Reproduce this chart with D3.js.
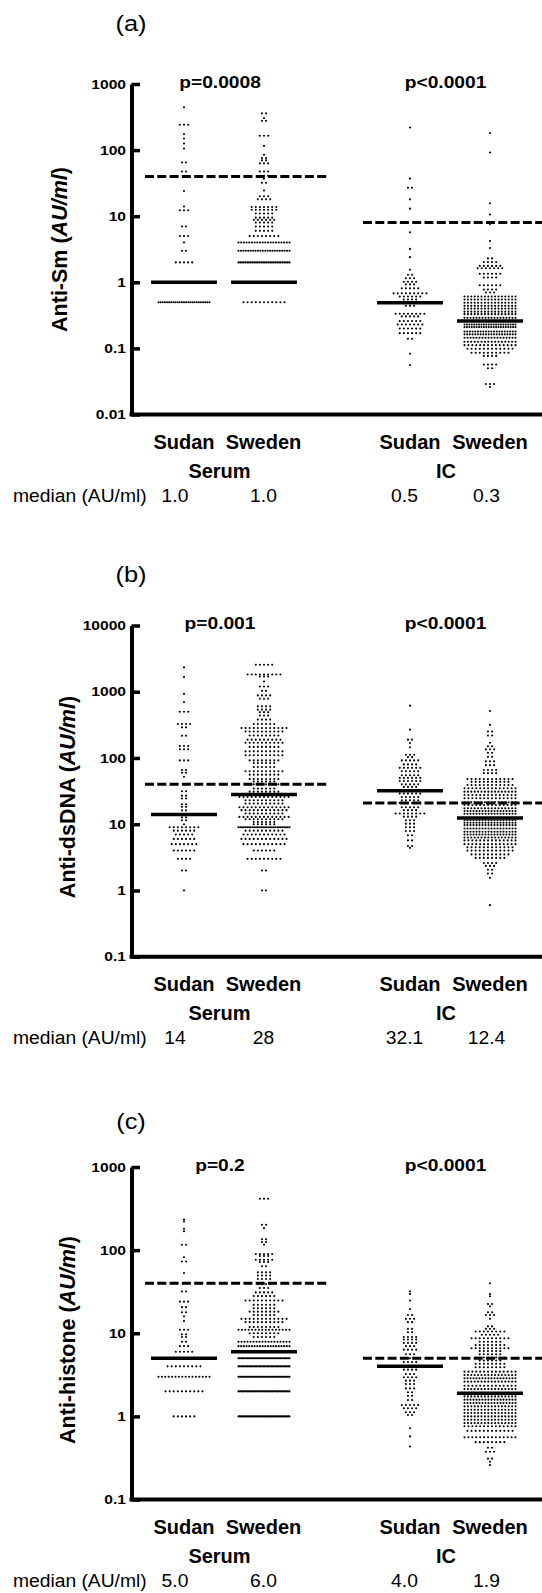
<!DOCTYPE html>
<html>
<head>
<meta charset="utf-8">
<script src="https://cdn.jsdelivr.net/npm/d3@7"></script>
<style>
  body { margin: 0; background: #fff; }
  svg { display: block; }
</style>
</head>
<body>
<svg id="chart" width="542" height="1593"></svg>
<script>
// groups shown in every panel (left to right)
const groups = ["sudanSerum", "swedenSerum", "sudanIC", "swedenIC"];
const groupLabels = ["Sudan", "Sweden", "Sudan", "Sweden"];
const sampleLabels = ["Serum", "IC"];

// each row is [value in AU/ml, number of dots drawn at that level]
// (a) Anti-Sm
const smSudanSerum = [[443,1],[242,3],[175,1],[150,1],[126,1],[106,1],[65,2],[47.5,2],[24,1],[14,1],[12.3,3],[7,2],[5,3],[4,1],[3,2],[2,5],[1,45],[0.5,25]];
const smSwedenSerum = [[360,2],[305,1],[278,2],[165,3],[116,1],[85,1],[76,2],[70,2],[63,3],[47.5,3],[41,3],[37,1],[32,2],[24.5,1],[20,3],[18,4],[13.8,7],[12.5,7],[11,5],[9.5,5],[8.8,6],[8,5],[7,5],[6,5],[5,8],[4,20],[3,22],[2,30],[1,160],[0.5,11]];
const smSudanIC = [[220,1],[37,1],[27,2],[18,1],[13,1],[5.7,1],[3.2,1],[2.4,1],[1.55,1],[1.3,2],[1.15,3],[1.02,4],[0.93,3],[0.81,5],[0.68,9],[0.61,6],[0.55,4],[0.49,14],[0.44,3],[0.335,8],[0.305,5],[0.26,6],[0.23,7],[0.2,6],[0.17,6],[0.14,2],[0.083,1],[0.056,1]];
const smSwedenIC = [[181,1],[92,1],[15.7,1],[10.6,1],[7.6,1],[4.2,1],[3.3,1],[2.3,2],[2.03,4],[1.77,6],[1.63,7],[1.35,6],[1.18,4],[0.9,6],[0.78,4],[0.7,3],[0.61,16],[0.55,16],[0.49,16],[0.44,16],[0.4,16],[0.36,16],[0.33,16],[0.29,18],[0.26,25],[0.23,22],[0.21,22],[0.18,20],[0.163,20],[0.145,18],[0.126,16],[0.112,14],[0.099,12],[0.086,10],[0.077,4],[0.057,4],[0.05,2],[0.029,3],[0.026,1]];

// (b) Anti-dsDNA
const dnaSudanSerum = [[2330,1],[1660,1],[930,1],[700,1],[500,3],[326,4],[290,2],[217,2],[151,3],[135,3],[92,3],[66,2],[60,2],[52,1],[40,1],[31.4,2],[27,2],[24.5,2],[20,2],[18.3,2],[16.2,2],[14,8],[12.7,2],[11.5,2],[10,1],[9,8],[8,6],[7,5],[6,6],[5,7],[4,6],[3,4],[2,2],[1,1]];
const dnaSwedenSerum = [[2550,5],[1820,9],[1700,3],[1430,1],[1200,3],[1035,2],[880,4],[785,3],[602,4],[537,4],[492,3],[438,3],[380,4],[325,6],[283,12],[251,10],[218,8],[189,9],[170,10],[147,8],[126,10],[110,10],[92,8],[84,6],[73,6],[63,10],[56,8],[48,8],[44,6],[40,8],[34.6,6],[31,8],[28,10],[25.7,13],[23,10],[20.5,10],[18,13],[16.3,12],[14.5,10],[12.9,13],[11.9,10],[10.8,6],[10,6],[9,30],[8,10],[7,11],[6,12],[5,11],[4,6],[3,9],[2,2],[1,2]];
const dnaSudanIC = [[617,1],[268,1],[189,2],[168,1],[145,1],[112,3],[103,2],[92,5],[80,4],[71,6],[63,5],[55,5],[50,6],[45,6],[40,5],[36.6,4],[32.1,6],[29,6],[25.7,5],[23,5],[21,6],[18,5],[16.3,4],[14.5,8],[13,4],[11.5,3],[10.2,3],[9,3],[7.9,3],[6.8,2],[5.7,2],[4.7,2],[4.4,1]];
const dnaSwedenIC = [[513,1],[316,1],[251,2],[218,2],[170,1],[150,2],[135,3],[120,2],[104,2],[89,3],[78,3],[66,4],[59,4],[48,12],[43.6,10],[39,12],[35,14],[31,16],[27.6,14],[24.6,14],[21.4,16],[19.5,14],[17.4,16],[15.8,18],[14.4,18],[12.4,25],[11.5,18],[10.5,18],[9.7,18],[8.6,18],[7.7,18],[7,18],[6.3,16],[5.7,14],[5,14],[4.5,12],[4,12],[3.5,10],[3.1,8],[2.6,4],[2.35,3],[2.05,2],[1.8,2],[1.55,1],[0.6,1]];

// (c) Anti-histone
const hisSudanSerum = [[234,1],[221,1],[181,1],[169,1],[116,2],[82,1],[73,2],[53,1],[31.8,2],[24,3],[20.6,2],[17.9,2],[16,1],[14,1],[11,3],[9.7,2],[9,2],[7.9,2],[7,3],[6,5],[5,20],[4,9],[3,16],[2,10],[1,6]];
const hisSwedenSerum = [[415,3],[202,2],[184,1],[135,2],[125,2],[116,1],[90,5],[85,3],[76.5,5],[72,3],[64,2],[54,4],[49.5,4],[45,4],[39,4],[35,3],[31,5],[28,6],[24.8,10],[22,6],[20,6],[18.2,8],[16.6,6],[14.9,12],[13.6,10],[11.9,8],[11,16],[10,8],[9,6],[7.9,18],[7,20],[6,30],[5,40],[4,40],[3,40],[2,40],[1,40]];
const hisSudanIC = [[31.8,1],[29.6,1],[24.8,1],[19.6,1],[16.6,2],[14.9,3],[13.6,2],[11.3,2],[10.3,2],[9,4],[8.4,4],[7.65,4],[7,3],[6.35,4],[5.6,3],[5,5],[4.5,4],[4,6],[3.65,4],[3.24,3],[2.95,4],[2.69,3],[2.45,3],[2.17,3],[1.95,2],[1.77,2],[1.57,2],[1.37,5],[1.25,4],[1.12,3],[1.04,2],[0.72,1],[0.574,1],[0.435,1]];
const hisSwedenIC = [[40,1],[29.6,1],[27.9,1],[22.5,2],[21.1,1],[17.9,2],[16.6,3],[14.9,1],[12.1,2],[11.3,3],[10.5,8],[9.6,5],[8.7,10],[7.9,6],[7.2,8],[6.6,10],[6.1,6],[5.6,6],[5.1,8],[4.7,6],[4.3,8],[3.9,8],[3.45,14],[3.15,16],[2.87,18],[2.62,16],[2.34,14],[2.13,16],[1.9,20],[1.74,16],[1.59,18],[1.45,18],[1.32,16],[1.2,16],[1.1,16],[1.0,16],[0.91,16],[0.83,16],[0.76,14],[0.67,12],[0.56,14],[0.49,8],[0.42,2],[0.375,3],[0.31,2],[0.284,1],[0.26,1]];

// medians: line level and printed text
const smMedians = [1, 1, 0.49, 0.26];
const smMedianText = ["1.0", "1.0", "0.5", "0.3"];
const dnaMedians = [14, 28, 32.1, 12.4];
const dnaMedianText = ["14", "28", "32.1", "12.4"];
const hisMedians = [5, 6, 4, 1.9];
const hisMedianText = ["5.0", "6.0", "4.0", "1.9"];

// cut-off levels (serum, IC)
const smCutoffs = [40, 8];
const dnaCutoffs = [40, 21];
const hisCutoffs = [40, 5];

// p values (serum, IC)
const smP = ["p=0.0008", "p<0.0001"];
const dnaP = ["p=0.001", "p<0.0001"];
const hisP = ["p=0.2", "p<0.0001"];

// axis ticks
const smTicks = [0.01, 0.1, 1, 10, 100, 1000];
const dnaTicks = [0.1, 1, 10, 100, 1000, 10000];
const hisTicks = [0.1, 1, 10, 100, 1000];

const font = "'Liberation Sans', Arial, Helvetica, sans-serif";
const svg = d3.select("#chart");

const axisX = 131.5;
const dotStep = 4.1, maxRow = 51, dotR = 1.05;
const medianHalf = 33;

const xPos = d3.scaleOrdinal().domain(groups).range([184, 264, 410, 490]);
const labelX = [184, 263.5, 410, 490];
const sampleX = [219.5, 446];
const pX = [220, 445.5];
const medTextX = [175, 263.5, 404.5, 486.5];

const panels = [
  { title: "(a)", name: "Anti-Sm", data: [smSudanSerum, smSwedenSerum, smSudanIC, smSwedenIC],
    medians: smMedians, medText: smMedianText, cutoffs: smCutoffs, p: smP, ticks: smTicks,
    top: 84, bottom: 414.5, titleY: 30.5, labX: 66.5, labY: 249.5 },
  { title: "(b)", name: "Anti-dsDNA", data: [dnaSudanSerum, dnaSwedenSerum, dnaSudanIC, dnaSwedenIC],
    medians: dnaMedians, medText: dnaMedianText, cutoffs: dnaCutoffs, p: dnaP, ticks: dnaTicks,
    top: 625.5, bottom: 956.7, titleY: 582, labX: 75, labY: 797 },
  { title: "(c)", name: "Anti-histone", data: [hisSudanSerum, hisSwedenSerum, hisSudanIC, hisSwedenIC],
    medians: hisMedians, medText: hisMedianText, cutoffs: hisCutoffs, p: hisP, ticks: hisTicks,
    top: 1167, bottom: 1499.5, titleY: 1129, labX: 75, labY: 1340 }
];

// small helper for text with optional horizontal stretch
function addText(g, x, y, str, size, weight, anchor, sx) {
  return g.append("text")
    .attr("transform", "translate(" + x + "," + y + ") scale(" + (sx || 1) + ",1)")
    .attr("text-anchor", anchor || "middle")
    .attr("font-family", font)
    .attr("font-size", size)
    .attr("font-weight", weight || "normal")
    .attr("fill", "#000")
    .text(str);
}

function drawPanel(p) {
  const y = d3.scaleLog()
    .domain([p.ticks[0], p.ticks[p.ticks.length - 1]])
    .range([p.bottom, p.top]);

  const g = svg.append("g");

  // dots, one horizontal row per value
  p.data.forEach(function (rows, gi) {
    const cx = xPos(groups[gi]);
    const dots = [];
    rows.forEach(function (r) {
      const n = r[1];
      const w = Math.min((n - 1) * dotStep, maxRow);
      const step = n > 1 ? w / (n - 1) : 0;
      for (let i = 0; i < n; i++) dots.push({ x: cx - w / 2 + i * step, y: y(r[0]) });
    });
    g.append("g").selectAll("circle")
      .data(dots)
      .enter()
      .append("circle")
      .attr("cx", d => d.x)
      .attr("cy", d => d.y)
      .attr("r", dotR)
      .attr("fill", "#000");
  });

  // cut-off dashed lines
  const cutSpans = [[145, 328], [363, 545]];
  p.cutoffs.forEach(function (c, i) {
    g.append("line")
      .attr("x1", cutSpans[i][0]).attr("x2", cutSpans[i][1])
      .attr("y1", y(c)).attr("y2", y(c))
      .attr("stroke", "#000")
      .attr("stroke-width", 3)
      .attr("stroke-dasharray", "9,3.3");
  });

  // median lines
  p.medians.forEach(function (m, i) {
    const cx = xPos(groups[i]);
    g.append("line")
      .attr("x1", cx - medianHalf).attr("x2", cx + medianHalf)
      .attr("y1", y(m)).attr("y2", y(m))
      .attr("stroke", "#000")
      .attr("stroke-width", 3.5);
  });

  // y axis
  const yAxis = d3.axisLeft(y)
    .tickValues(p.ticks)
    .tickFormat(d => String(d))
    .tickSize(-8.5)
    .tickSizeOuter(0)
    .tickPadding(4.6);

  g.append("g")
    .attr("transform", "translate(" + axisX + ",0)")
    .call(yAxis)
    .call(a => a.select(".domain").attr("stroke", "#000").attr("stroke-width", 4))
    .call(a => a.selectAll(".tick line").attr("stroke", "#000").attr("stroke-width", 3.5))
    .call(a => a.selectAll(".tick text")
      .attr("font-family", font)
      .attr("font-size", 13)
      .attr("font-weight", "bold")
      .attr("fill", "#000")
      .attr("transform", "scale(1.2,1)"));

  // x axis line (runs off the right edge)
  g.append("line")
    .attr("x1", axisX - 2).attr("x2", 545)
    .attr("y1", p.bottom).attr("y2", p.bottom)
    .attr("stroke", "#000")
    .attr("stroke-width", 4);

  // y axis title
  const t = g.append("text")
    .attr("transform", "translate(" + p.labX + "," + p.labY + ") rotate(-90)")
    .attr("text-anchor", "middle")
    .attr("font-family", font)
    .attr("font-size", 21.5)
    .attr("font-weight", "bold")
    .attr("fill", "#000");
  t.append("tspan").text(p.name + " (");
  t.append("tspan").attr("font-style", "italic").text("AU/ml");
  t.append("tspan").text(")");

  // panel letter and p values
  addText(g, 131, p.titleY, p.title, 21.5, "normal", "middle", 1.18);
  p.p.forEach((s, i) => addText(g, pX[i], p.top + 3.5, s, 16, "bold", "middle", 1.2));

  // category labels
  groupLabels.forEach((s, i) => addText(g, labelX[i], p.bottom + 34, s, 20, "bold"));
  sampleLabels.forEach((s, i) => addText(g, sampleX[i], p.bottom + 63.5, s, 20, "bold"));

  // median row
  addText(g, 13, p.bottom + 87, "median (AU/ml)", 18, "normal", "start", 1.07);
  p.medText.forEach((s, i) => addText(g, medTextX[i], p.bottom + 87, s, 18, "normal", "middle", 1.07));
}

panels.forEach(drawPanel);
</script>
</body>
</html>
